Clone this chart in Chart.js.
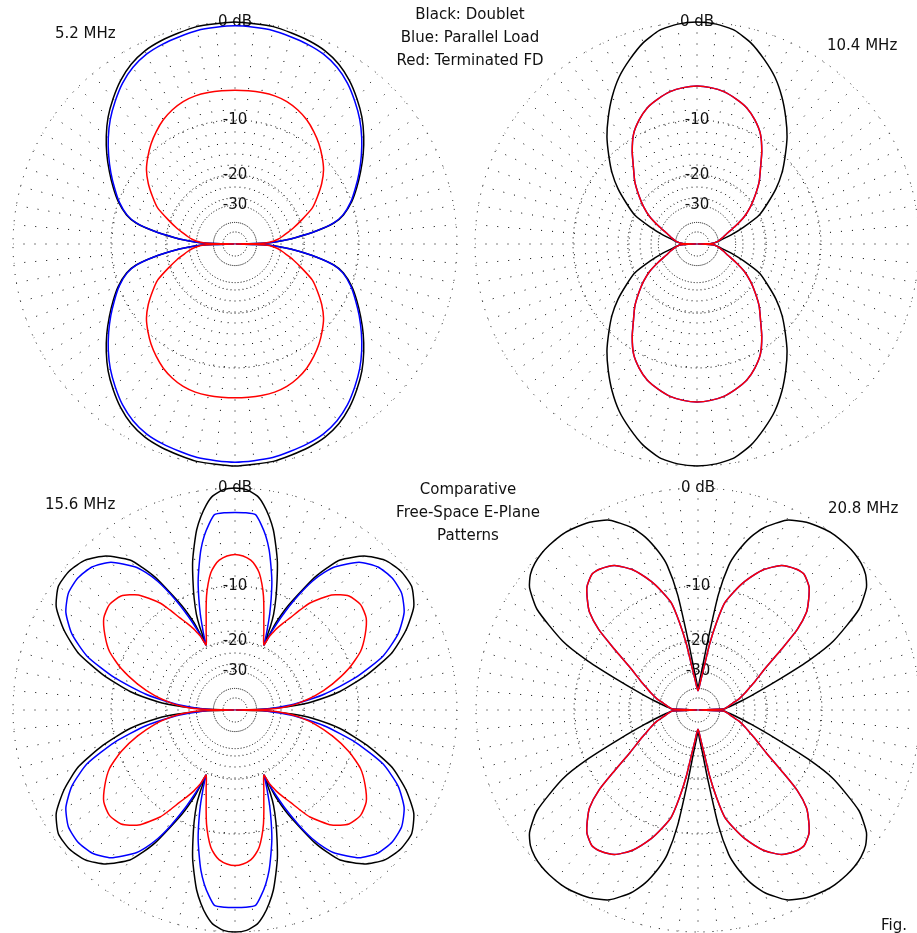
<!DOCTYPE html>
<html>
<head>
<meta charset="utf-8">
<script src="https://cdn.jsdelivr.net/npm/chart.js@4.4.0/dist/chart.umd.min.js"></script>
<style>
  body { margin: 0; background: #fff; width: 917px; height: 933px; overflow: hidden; position: relative; }
  .plot { position: absolute; }
  .txt { position: absolute; font: 15px "DejaVu Sans"; color: #111; white-space: nowrap; line-height: 23px; z-index: 5; }
  .ctr { text-align: center; transform: translateX(-50%); }
</style>
</head>
<body>
<div class="plot" id="p52"><canvas id="c52" width="460" height="460"></canvas></div>
<div class="plot" id="p104"><canvas id="c104" width="460" height="460"></canvas></div>
<div class="plot" id="p156"><canvas id="c156" width="460" height="460"></canvas></div>
<div class="plot" id="p208"><canvas id="c208" width="460" height="460"></canvas></div>

<div class="txt" style="left:55px;top:22px;">5.2 MHz</div>
<div class="txt ctr" style="left:470px;top:3px;">Black: Doublet<br>Blue: Parallel Load<br>Red: Terminated FD</div>
<div class="txt" style="left:827px;top:34px;">10.4 MHz</div>
<div class="txt" style="left:45px;top:493px;">15.6 MHz</div>
<div class="txt ctr" style="left:468px;top:478px;">Comparative<br>Free-Space E-Plane<br>Patterns</div>
<div class="txt" style="left:828px;top:497px;">20.8 MHz</div>
<div class="txt" style="left:881px;top:914px;">Fig.</div>

<script>
// rings of the ARRL log grid (dB)
const ringDb = [0, -10, -20, -30, -40, -50];
const ringText = ['0 dB', '-10', '-20', '-30', '', ''];

// one quadrant of each pattern: angle from the top (deg) and gain (dB)
const ang52 = [0, 5, 10, 15, 20, 25, 30, 35, 40, 45, 50, 55, 60, 65, 70, 75, 78, 81, 84, 86, 88, 89, 90];
const black52 = [0, -0.07, -0.1, -0.28, -0.45, -0.7, -1.15, -1.83, -2.7, -3.65, -4.78, -6.0, -7.3, -8.6, -9.95, -11.7, -13.5, -17.2, -22.3, -26.6, -32, -40, -99];
const blue52 = [-0.3, -0.35, -0.4, -0.58, -0.75, -1.0, -1.45, -2.12, -3.0, -3.95, -5.05, -6.25, -7.5, -8.8, -10.1, -11.8, -13.6, -17.2, -22.3, -26.6, -32, -40, -99];
const red52 = [-6.3, -6.3, -6.3, -6.35, -6.55, -6.95, -7.5, -8.25, -9.1, -10.1, -11.2, -12.7, -14.5, -16.4, -19.5, -22.5, -24.5, -26.3, -28.3, -30.2, -34, -42, -99];

const ang104 = [0, 5, 10, 15, 20, 25, 30, 35, 40, 45, 50, 55, 60, 65, 70, 75, 80, 84, 87, 89, 90];
const black104 = [0, -0.1, -0.4, -1.1, -2.1, -3.2, -4.6, -6.2, -7.9, -9.9, -11.9, -14.3, -17.2, -20.1, -25.7, -31.5, -37.5, -41, -45, -55, -99];
const red104 = [-5.85, -5.95, -6.2, -6.7, -7.3, -8.3, -9.6, -11.6, -13.9, -15.9, -18.4, -21, -24.1, -28.4, -32.8, -36, -39, -41.5, -45, -55, -99];
const blue104 = red104;

const ang156 = [0, 3, 6, 8, 10, 12, 14, 16, 18, 20, 22, 23, 24, 25, 26, 27, 29, 31, 33, 35, 40, 45, 50, 55, 60, 65, 70, 75, 80, 84, 86, 88, 89, 90];
const black156 = [0, -0.1, -0.55, -1.2, -2.1, -3.2, -4.7, -6.3, -8.4, -10.6, -13.2, -15.5, -19.5, -14.7, -12.6, -11.0, -8.6, -6.2, -4.6, -3.3, -1.7, -0.8, -0.45, -0.5, -1.25, -2.8, -4.9, -8.3, -12.6, -18.2, -23.3, -32, -40, -99];
const blue156 = [-2.0, -2.0, -2.1, -2.9, -3.9, -5.2, -6.9, -8.7, -11, -13.5, -16.4, -17.9, -19.5, -16.3, -14, -12, -9, -6.7, -5.2, -4.1, -2.4, -1.6, -1.35, -1.5, -2.2, -3.6, -5.9, -9.9, -15.4, -22, -26.8, -33, -41, -99];
const red156 = [-6.1, -6.25, -6.65, -7.2, -8.0, -9.3, -10.9, -12.9, -14.9, -16.6, -18.3, -19, -19.5, -17.3, -16.3, -15.3, -13.8, -12.4, -10.7, -9.1, -6.7, -5.5, -5.2, -5.6, -6.7, -8.1, -10.4, -13.5, -17.3, -21.5, -24.5, -29, -36, -99];

const ang208 = [0, 3, 6, 8, 10, 12, 14, 17, 20, 25, 30, 35, 38, 42, 45, 48, 51, 54, 58, 63, 66, 70, 75, 79, 84, 88, 90];
const black208 = [-40, -35, -28, -20, -11, -7, -5.3, -3.5, -2.3, -1.0, -0.4, -0.1, 0, 0, -0.05, -0.2, -0.5, -1.1, -2.7, -6.5, -10.5, -17.2, -24, -28.6, -33.5, -37, -99];
const red208 = [-42, -39, -33, -28, -20.5, -15.5, -12, -10, -8.3, -6.2, -4.9, -4.4, -4.35, -5.0, -6.0, -7.2, -9.5, -13.2, -17.5, -21.2, -23.2, -25.5, -28.5, -31.6, -34.5, -37, -99];
const blue208 = red208;

// ARRL log scale: radius = 0.89^(-dB/2) of the outer ring
class ArrlScale extends Chart.RadialLinearScale {
  getDistanceFromCenterForValue(v) {
    if (v === null || v === undefined || isNaN(v)) return NaN;
    return this.drawingArea * Math.pow(0.89, -v / 2);
  }
}
ArrlScale.id = 'arrl';
ArrlScale.defaults = Chart.RadialLinearScale.defaults;
Chart.register(ArrlScale);

const degLabels = [];
for (let i = 0; i < 360; i++) degLabels.push(String(i));

// patterns are symmetric left/right and top/bottom
function fullCircle(angles, vals) {
  const out = new Array(360).fill(null);
  angles.forEach((a, i) => {
    [a, 180 - a, 180 + a, 360 - a].forEach(k => { out[(k + 360) % 360] = vals[i]; });
  });
  return out;
}

const ringDash = [[1, 8], [1, 4], [1, 3], [1, 2], [1, 1], [1, 2]];
// spoke dots every 11px counted in from the rim, none near the centre
const spokeDash = [0, 45.5];
for (let i = 0; i < 16; i++) spokeDash.push(1, 10);
spokeDash.push(1, 200);

function makePlot(id, cx, cy, ang, black, blue, red) {
  const chart = new Chart(document.getElementById('c' + id), {
    type: 'radar',
    data: {
      labels: degLabels,
      datasets: [
        { data: fullCircle(ang, red), borderColor: '#ff0000' },
        { data: fullCircle(ang, blue), borderColor: '#0000ff' },
        { data: fullCircle(ang, black), borderColor: '#000000' }
      ]
    },
    options: {
      responsive: false,
      animation: false,
      devicePixelRatio: 1,
      events: [],
      layout: { padding: 0 },
      elements: {
        line: { borderWidth: 1.5, tension: 0.2, fill: false, backgroundColor: 'transparent' },
        point: { radius: 0, hitRadius: 0 }
      },
      datasets: { radar: { spanGaps: true } },
      plugins: { legend: { display: false }, tooltip: { enabled: false } },
      scales: {
        r: {
          type: 'arrl',
          min: -100,
          max: 0,
          afterBuildTicks: s => { s.ticks = ringDb.map(v => ({ value: v })); },
          ticks: {
            display: true,
            callback: v => ringText[ringDb.indexOf(v)] || '',
            font: { family: 'DejaVu Sans', size: 15 },
            color: '#111',
            showLabelBackdrop: false,
            backdropPadding: 0
          },
          grid: { circular: true, color: '#000', lineWidth: 1 },
          border: { dash: c => ringDash[c.index] || [1, 2] },
          angleLines: { color: '#000', lineWidth: c => (c.index % 5 === 0 ? 1 : 0), borderDash: spokeDash },
          pointLabels: { display: false }
        }
      }
    }
  });
  const s = chart.scales.r;
  const box = document.getElementById('p' + id);
  box.style.left = (cx - s.xCenter) + 'px';
  box.style.top = (cy - s.yCenter) + 'px';
}

makePlot('52', 235, 244, ang52, black52, blue52, red52);
makePlot('104', 697, 244, ang104, black104, blue104, red104);
makePlot('156', 235, 710, ang156, black156, blue156, red156);
makePlot('208', 698, 710, ang208, black208, blue208, red208);
</script>
</body>
</html>
